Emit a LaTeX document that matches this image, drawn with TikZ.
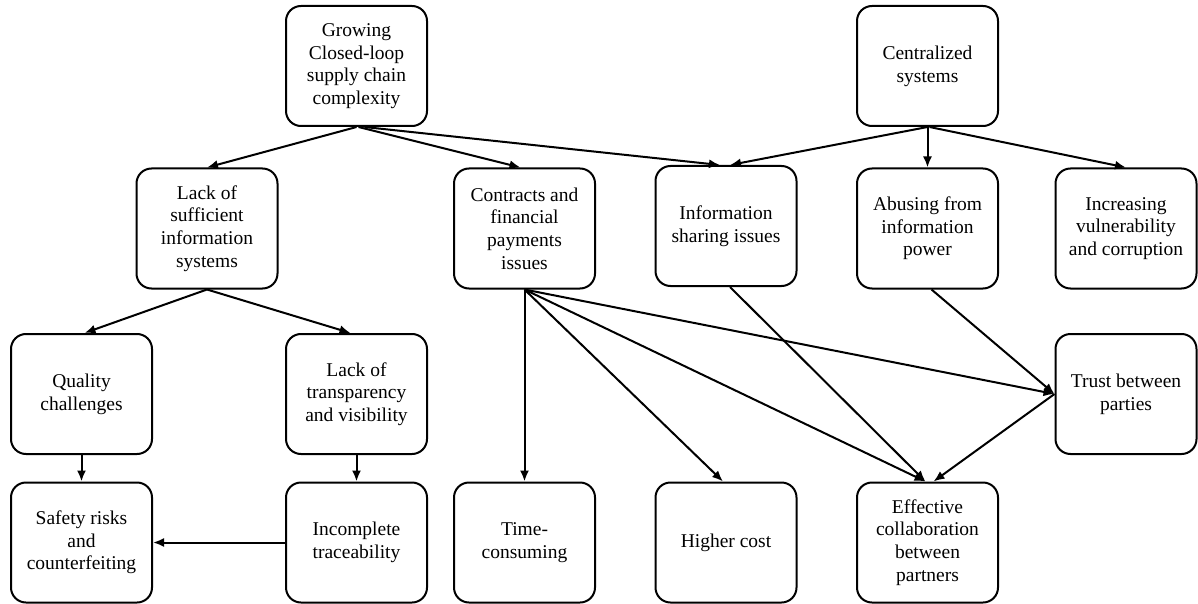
\documentclass[tikz,border=0pt]{standalone}
\usepackage{fontspec}
\setmainfont{Liberation Serif}
\usetikzlibrary{arrows.meta}
\begin{document}
\begin{tikzpicture}[x=1pt,y=-1pt,
  box/.style={draw, line width=2pt, rounded corners=15pt, minimum width=141pt, minimum height=120pt,
    align=center, inner sep=2pt, font=\fontsize{19.5}{22.7}\selectfont},
  arr/.style={line width=2pt, -{Latex[length=11pt,width=9pt]}}]
\useasboundingbox (0,0) rectangle (1198,604);
\node[box] (grow) at (356.5,66) {Growing\\Closed-loop\\supply chain\\complexity};
\node[box] (cent) at (927.5,66) {Centralized\\systems};
\node[box] (lsuff) at (207,228.5) {Lack of\\sufficient\\information\\systems};
\node[box] (contr) at (524.5,228.5) {Contracts and\\financial\\payments\\issues};
\node[box] (info) at (726,226) {Information\\sharing issues};
\node[box] (abuse) at (927.5,228.5) {Abusing from\\information\\power};
\node[box] (incr) at (1126,228.5) {Increasing\\vulnerability\\and corruption};
\node[box] (qual) at (81.5,394) {Quality\\challenges};
\node[box] (ltrans) at (356.5,394) {Lack of\\transparency\\and visibility};
\node[box] (trust) at (1126,394) {Trust between\\parties};
\node[box] (safety) at (81.5,542.5) {Safety risks\\and\\counterfeiting};
\node[box] (incompl) at (356.5,542.5) {Incomplete\\traceability};
\node[box] (time) at (524.5,542.5) {Time-\\consuming};
\node[box] (higher) at (726,542.5) {Higher cost};
\node[box] (effect) at (927.5,542.5) {Effective\\collaboration\\between\\partners};

\draw[arr] (grow.south) -- (lsuff.north);
\draw[arr] ([xshift=2pt]grow.south) -- ([xshift=-4pt]contr.north);
\draw[arr] ([xshift=8pt]grow.south) -- ([xshift=-6pt]info.north);
\draw[arr] (cent.south) -- ([xshift=4pt]info.north);
\draw[arr] (cent.south) -- (abuse.north);
\draw[arr] ([xshift=2pt]cent.south) -- (incr.north);
\draw[arr] (lsuff.south) -- ([xshift=3pt]qual.north);
\draw[arr] (lsuff.south) -- ([xshift=-6pt]ltrans.north);
\draw[arr] (qual.south) -- (safety.north);
\draw[arr] (ltrans.south) -- (incompl.north);
\draw[arr] (incompl.west) -- (safety.east);
\draw[arr] (contr.south) -- (time.north);
\draw[arr] (contr.south) -- ([xshift=-3pt]higher.north);
\draw[arr] (contr.south) -- ([xshift=-2pt]effect.north);
\draw[arr] (contr.south) -- (trust.west);
\draw[arr] ([xshift=4pt]info.south) -- ([xshift=-2pt]effect.north);
\draw[arr] ([xshift=4pt]abuse.south) -- (trust.west);
\draw[arr] (trust.west) -- ([xshift=6pt]effect.north);
\end{tikzpicture}
\end{document}
